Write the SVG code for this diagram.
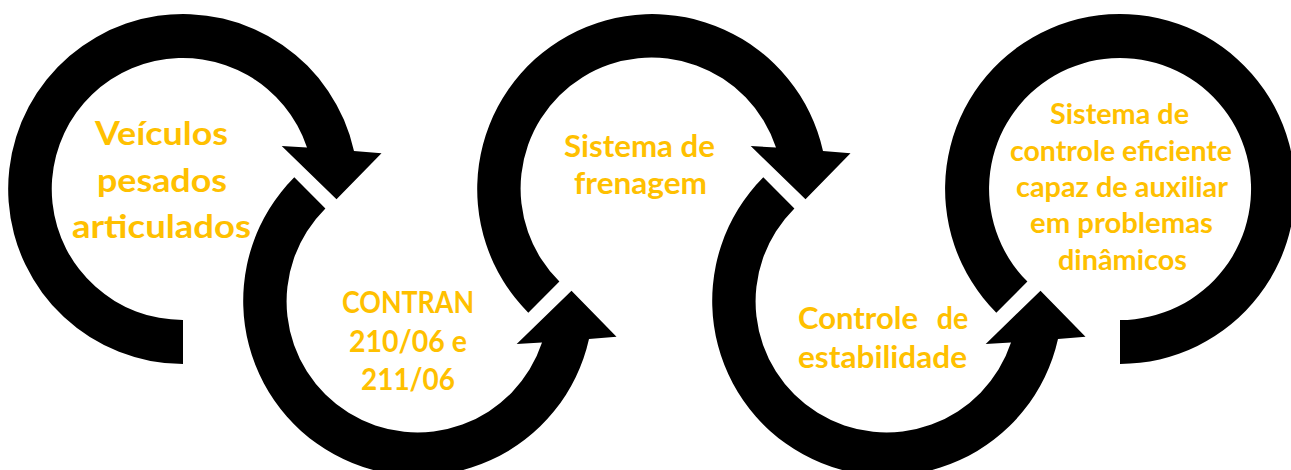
<svg xmlns="http://www.w3.org/2000/svg" xmlns:xlink="http://www.w3.org/1999/xlink" width="1291" height="470" viewBox="0 0 1291 470">
<style>
.ring{fill:#000000;}
.lbl{fill:#FFC000;font-family:Lato,"Open Sans","Liberation Sans",sans-serif;font-weight:bold;text-anchor:middle;}
</style>
<defs>
<path id="arcStartBottom" d="M0 175 A175 175 0 1 1 171 -38 L198.5 -35.7 L153.5 10.3 L98.7 -43 L124 -41.5 A131 131 0 1 0 0 131 Z"/>
<path id="arcStartDiag" d="M-123.7 123.7 A175 175 0 1 1 171 -38 L198.5 -35.7 L153.5 10.3 L98.7 -43 L124 -41.5 A131 131 0 1 0 -92.6 92.6 Z"/>
<path id="arcEnd" d="M-123.7 123.7 A175 175 0 1 1 0 175 L0 131 A131 131 0 1 0 -92.6 92.6 Z"/>
</defs>
<rect width="1291" height="470" fill="#FFFFFF"/>
<g id="node1">
<use xlink:href="#arcStartBottom" class="ring" transform="translate(183,189)"/>
<text class="lbl" font-size="32.5"><tspan x="161.5" y="145" textLength="133" lengthAdjust="spacingAndGlyphs">Veículos</tspan><tspan x="162" y="192" textLength="130" lengthAdjust="spacingAndGlyphs">pesados</tspan><tspan x="161.5" y="238" textLength="179" lengthAdjust="spacingAndGlyphs">articulados</tspan></text>
</g>
<g id="node2">
<use xlink:href="#arcStartDiag" class="ring" transform="translate(418,301) scale(1,-1)"/>
<text class="lbl" font-size="29.5"><tspan x="408" y="313.3" textLength="132" lengthAdjust="spacingAndGlyphs">CONTRAN</tspan><tspan x="408" y="351.7" textLength="118" lengthAdjust="spacingAndGlyphs">210/06 e</tspan><tspan x="408" y="390" textLength="94" lengthAdjust="spacingAndGlyphs">211/06</tspan></text>
</g>
<g id="node3">
<use xlink:href="#arcStartDiag" class="ring" transform="translate(652,189)"/>
<text class="lbl" font-size="31"><tspan x="639.5" y="157.3" textLength="151" lengthAdjust="spacingAndGlyphs">Sistema de</tspan><tspan x="640.5" y="194" textLength="133" lengthAdjust="spacingAndGlyphs">frenagem</tspan></text>
</g>
<g id="node4">
<use xlink:href="#arcStartDiag" class="ring" transform="translate(887,301) scale(1,-1)"/>
<text class="lbl" font-size="30.5" x="858" y="329" textLength="120" lengthAdjust="spacingAndGlyphs">Controle</text>
<text class="lbl" font-size="30.5" x="952.5" y="329" textLength="31.5" lengthAdjust="spacingAndGlyphs">de</text>
<text class="lbl" font-size="30.5" x="882.5" y="368" textLength="169" lengthAdjust="spacingAndGlyphs">estabilidade</text>
</g>
<g id="node5">
<use xlink:href="#arcEnd" class="ring" transform="translate(1120,189)"/>
<text class="lbl" font-size="28.5"><tspan x="1119.5" y="124.3" textLength="139" lengthAdjust="spacingAndGlyphs">Sistema de</tspan><tspan x="1121" y="161" textLength="222" lengthAdjust="spacingAndGlyphs">controle eficiente</tspan><tspan x="1122" y="197" textLength="212" lengthAdjust="spacingAndGlyphs">capaz de auxiliar</tspan><tspan x="1121.5" y="233.3" textLength="183" lengthAdjust="spacingAndGlyphs">em problemas</tspan><tspan x="1122.5" y="270" textLength="129" lengthAdjust="spacingAndGlyphs">dinâmicos</tspan></text>
</g>
</svg>
